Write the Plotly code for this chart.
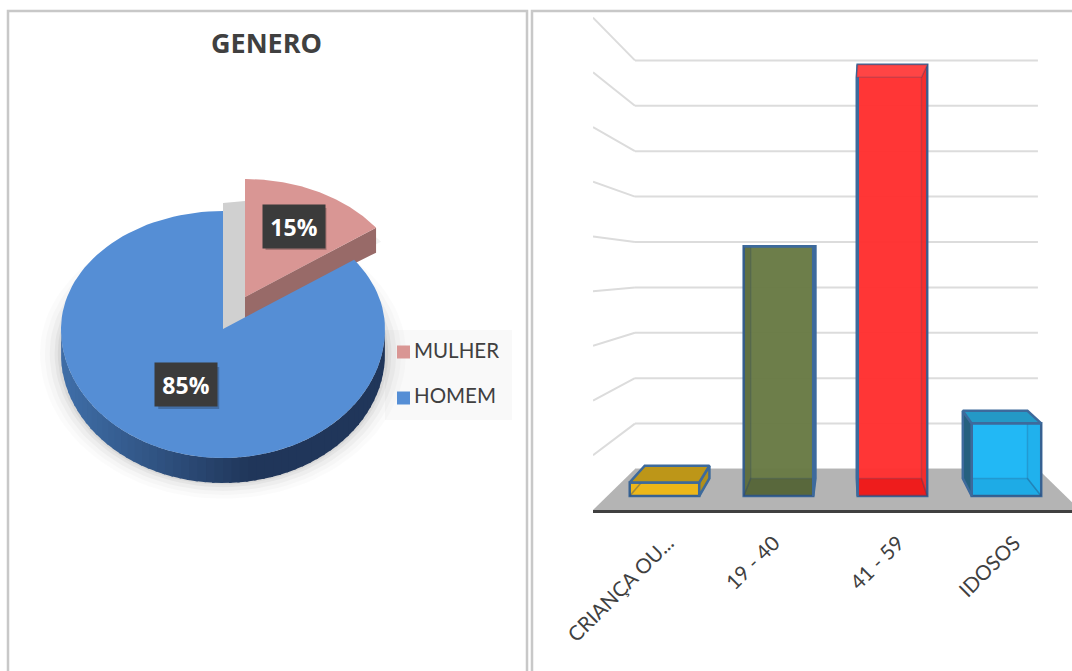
import math
import plotly.graph_objects as go

# ---- data ----
gender_labels = ["MULHER", "HOMEM"]
gender_share = [15, 85]
gender_colors = ["#d99694", "#558ed5"]
age_labels = ["CRIANÇA OU...", "19 - 40", "41 - 59", "IDOSOS"]
age_values = [0.3, 5.5, 9.5, 1.6]
grid_levels = list(range(10))
title_text = "GENERO"

# ---- styles for the faces of the boxes ----
front_fill = ["#f5bd1a", "rgba(104,122,68,0.97)", "rgba(255,48,48,0.97)", "#22b8f5"]
top_fill = ["#bd9618", "#6f7f4e", "#ff4545", "#2499c6"]
outer_fill = ["#b08f1c", "#5a6a38", "#ff3c3c", "#25607f"]
inner_fill = ["rgba(0,0,0,0.03)", "rgba(0,0,0,0.10)", "rgba(190,0,0,0.14)", "rgba(0,60,100,0.05)"]
floor_fill = ["rgba(0,0,0,0.03)", "rgba(0,0,0,0.16)", "rgba(220,0,0,0.45)", "rgba(0,60,100,0.10)"]
tick_nudge = [0.03, -0.04, 0.05, 0.07]
edge = "#3d6a9c"
inner_edge = "rgba(40,70,110,0.22)"
W, H = 1072, 671

fig = go.Figure()
shapes = []
annotations = []


# ---------- left panel: exploded pie on a pixel-like axis pair ----------
CX, CY, RX, RY_UP, RY_DOWN = 223, 329, 162, 118, 129


def pt(theta, cx=CX, cy=CY, scale=1.0):
    c = math.cos(theta)
    ry = RY_UP if c > 0 else RY_DOWN
    return cx + scale * RX * math.sin(theta), cy - scale * ry * c


def wedge(a0, a1, cx=CX, cy=CY, n=120):
    xs, ys = [cx], [cy]
    for i in range(n + 1):
        x, y = pt(a0 + (a1 - a0) * i / n, cx, cy)
        xs.append(x)
        ys.append(y)
    xs.append(cx)
    ys.append(cy)
    return xs, ys


def poly(xs, ys, fill, line="rgba(0,0,0,0)", width=0, axes=("x", "y")):
    fig.add_trace(go.Scatter(x=xs, y=ys, mode="lines", fill="toself", fillcolor=fill,
                             line=dict(color=line, width=width), hoverinfo="skip",
                             showlegend=False, xaxis=axes[0], yaxis=axes[1]))


total = sum(gender_share)
angles = [0.0]
for s in gender_share:
    angles.append(angles[-1] + 2 * math.pi * s / total)

DX, DY = 22, -32          # explosion of first slice
DEPTH = 25

# soft drop shadow
for grow, alpha in [(1.13, 0.015), (1.10, 0.02), (1.07, 0.03), (1.04, 0.04), (1.02, 0.05)]:
    xs, ys = [], []
    for i in range(121):
        t = 2 * math.pi * i / 120
        x, y = pt(t, CX, CY + 24, grow)
        xs.append(x)
        ys.append(y)
    poly(xs, ys, f"rgba(0,0,0,{alpha})")
# shadow behind exploded slice
sx, sy = wedge(angles[0], angles[1], CX + DX + 5, CY + DY + 14)
poly(sx, sy, "rgba(0,0,0,0.05)")

# legend plate
shapes.append(dict(type="rect", xref="paper", yref="paper", x0=385 / W, x1=512 / W,
                   y0=1 - 330 / H, y1=1 - 420 / H, fillcolor="#f9f9f9",
                   line=dict(width=0), layer="below"))

# grey wall seen inside the gap
poly([223, 245, 245, 223], [203, 201, 318, 329], "#d0d0d0")

# exploded slice: side then top
mx, my = pt(angles[1], CX + DX, CY + DY)
poly([CX + DX, mx, mx, CX + DX], [CY + DY, my, my + DEPTH, CY + DY + DEPTH - 4], "#986a68")
xs, ys = wedge(angles[0], angles[1], CX + DX, CY + DY)
poly(xs, ys, gender_colors[0])

# main slice: extruded rim with a hand-made gradient, then top
n_rim = 60
c0, c1 = (62, 108, 165), (32, 54, 90)
for i in range(n_rim):
    a = math.pi / 2 + math.pi * i / n_rim
    b = math.pi / 2 + math.pi * (i + 1.3) / n_rim
    x0, y0 = pt(a)
    x1, y1 = pt(b)
    t = max(0.0, min(1.0, (CX + 20 - min(x0, x1)) / 175))
    col = tuple(round(c1[k] + (c0[k] - c1[k]) * t) for k in range(3))
    poly([x0, x1, x1, x0], [y0, y1, y1 + DEPTH, y0 + DEPTH], f"rgb{col}")
xs, ys = wedge(angles[1], angles[2])
poly(xs, ys, gender_colors[1])

# percentage labels
label_radius = [0.66, 0.5]
label_center = [(CX + DX, CY + DY), (CX, CY)]
for i, s in enumerate(gender_share):
    mid = (angles[i] + angles[i + 1]) / 2
    lx, ly = pt(mid, label_center[i][0], label_center[i][1], label_radius[i])
    ly -= 1.5
    shapes.append(dict(type="rect", xref="x", yref="y", x0=lx - 28, x1=lx + 33, y0=ly - 18, y1=ly + 24,
                       fillcolor="rgba(0,0,0,0.22)", line=dict(width=0), layer="above"))
    annotations.append(dict(x=lx, y=ly, xref="x", yref="y", text=f"<b>{s}%</b>", showarrow=False,
                            width=60, height=41, bgcolor="#3b3b3b", align="center", valign="middle",
                            font=dict(family="Open Sans", size=23, color="white")))

# legend
fig.add_trace(go.Scatter(x=[403.5, 403.5], y=[352, 398], mode="markers",
                         marker=dict(symbol="square", size=13, color=gender_colors),
                         hoverinfo="skip", showlegend=False))
fig.add_trace(go.Scatter(x=[414, 414], y=[353, 398], mode="text",
                         text=gender_labels, textposition="middle right",
                         textfont=dict(family="Lato", size=20.5, color="#404040"),
                         hoverinfo="skip", showlegend=False))

annotations.append(dict(x=266, y=42, xref="x", yref="y", text=f"<b>{title_text}</b>", showarrow=False,
                        font=dict(family="Open Sans", size=27, color="#404040")))

# ---------- right panel: bars with perspective ----------
STEP_Y = 45.4            # pixels per unit on yaxis2
BAR_W = 0.61
VX, VY, K = 1.58, 5.53, 0.07   # vanishing point and depth on data axes
x_pos = list(range(len(age_labels)))


def back(x, y):
    return x - K * (x - VX), y - K * (y - VY)


fig.add_trace(go.Bar(x=x_pos, y=age_values, width=BAR_W, xaxis="x2", yaxis="y2",
                     marker=dict(color=front_fill, line=dict(color=edge, width=2.5)),
                     hoverinfo="skip", showlegend=False))

for i, v in enumerate(age_values):
    l, r = x_pos[i] - BAR_W / 2, x_pos[i] + BAR_W / 2
    bl, b0 = back(l, 0)
    br, _ = back(r, 0)
    _, bt = back(l, v)
    a = ("x2", "y2")
    poly([l, r, br, bl, l], [0, 0, b0, b0, 0], floor_fill[i], inner_edge, 1.5, a)
    if x_pos[i] < VX:
        poly([l, bl, bl, l, l], [0, b0, bt, v, 0], inner_fill[i], inner_edge, 1.5, a)
        poly([r, br, br, r, r], [0, b0, bt, v, 0], outer_fill[i], edge, 2.5, a)
    else:
        poly([r, br, br, r, r], [0, b0, bt, v, 0], inner_fill[i], inner_edge, 1.5, a)
        poly([l, bl, bl, l, l], [0, b0, bt, v, 0], outer_fill[i], edge, 2.5, a)
    top_line = edge if bt > v else inner_edge
    poly([l, r, br, bl, l], [v, v, bt, bt, v], top_fill[i], top_line, 2.5 if bt > v else 1.5, a)

# wall gridlines and floor, on the same axes as the bars
GX_L, GX_R, GX_OUT, GX_OUT_R = -0.259, 3.276, -0.627, 3.645
WALL0 = 0.595            # wall floor level on yaxis2
SIDE0, SIDE_STEP = -0.308, 1.205
grid_color = "#dcdcdc"
for lv in grid_levels:
    gy = WALL0 + lv
    shapes.append(dict(type="line", xref="x2", yref="y2", x0=GX_L, x1=GX_R, y0=gy, y1=gy,
                       line=dict(color=grid_color, width=2), layer="below"))
    if lv > 0:
        shapes.append(dict(type="line", xref="x2", yref="y2", x0=GX_OUT, x1=GX_L,
                           y0=SIDE0 + SIDE_STEP * lv, y1=gy,
                           line=dict(color=grid_color, width=2), layer="below"))
shapes.append(dict(type="path", xref="x2", yref="y2", layer="below", fillcolor="#b4b4b4",
                   line=dict(width=0),
                   path=f"M {GX_OUT},{SIDE0} L {GX_L},{WALL0} L {GX_R},{WALL0} L {GX_OUT_R},{SIDE0} Z"))

# panel frames
for x0, x1 in [(8, 527), (532, 1090)]:
    shapes.append(dict(type="rect", xref="paper", yref="paper", x0=x0 / W, x1=x1 / W,
                       y0=-0.02, y1=1 - 11 / H, line=dict(color="#c8c8c8", width=2.5), layer="below"))

PLOT_L, PLOT_B = 593, 510
fig.update_layout(
    width=W, height=H, margin=dict(l=0, r=0, t=0, b=0),
    paper_bgcolor="white", plot_bgcolor="rgba(0,0,0,0)", showlegend=False,
    shapes=shapes, annotations=annotations,
    xaxis=dict(domain=[0, 527 / W], range=[0, 527], visible=False, fixedrange=True, automargin=False),
    yaxis=dict(domain=[0, 1], range=[H, 0], visible=False, fixedrange=True, automargin=False),
    xaxis2=dict(domain=[PLOT_L / W, 1], anchor="y2", range=[-0.627, 3.575], showgrid=False, zeroline=False,
                tickmode="array", tickvals=[p + d for p, d in zip(x_pos, tick_nudge)], ticktext=age_labels,
                tickangle=-45,
                tickfont=dict(family="Lato", size=20.5, color="#404040"), ticks="outside", ticklen=10,
                tickcolor="rgba(0,0,0,0)", showline=True, linecolor="#404040", linewidth=3, fixedrange=True,
                automargin=False),
    yaxis2=dict(domain=[(H - PLOT_B) / H, 1], anchor="x2", range=[-14 / STEP_Y, 496 / STEP_Y],
                visible=False, fixedrange=True, automargin=False),
)

fig.write_html("out.html", config={"displayModeBar": False},
               post_script="document.body.style.margin='0';document.body.style.overflow='hidden';")
